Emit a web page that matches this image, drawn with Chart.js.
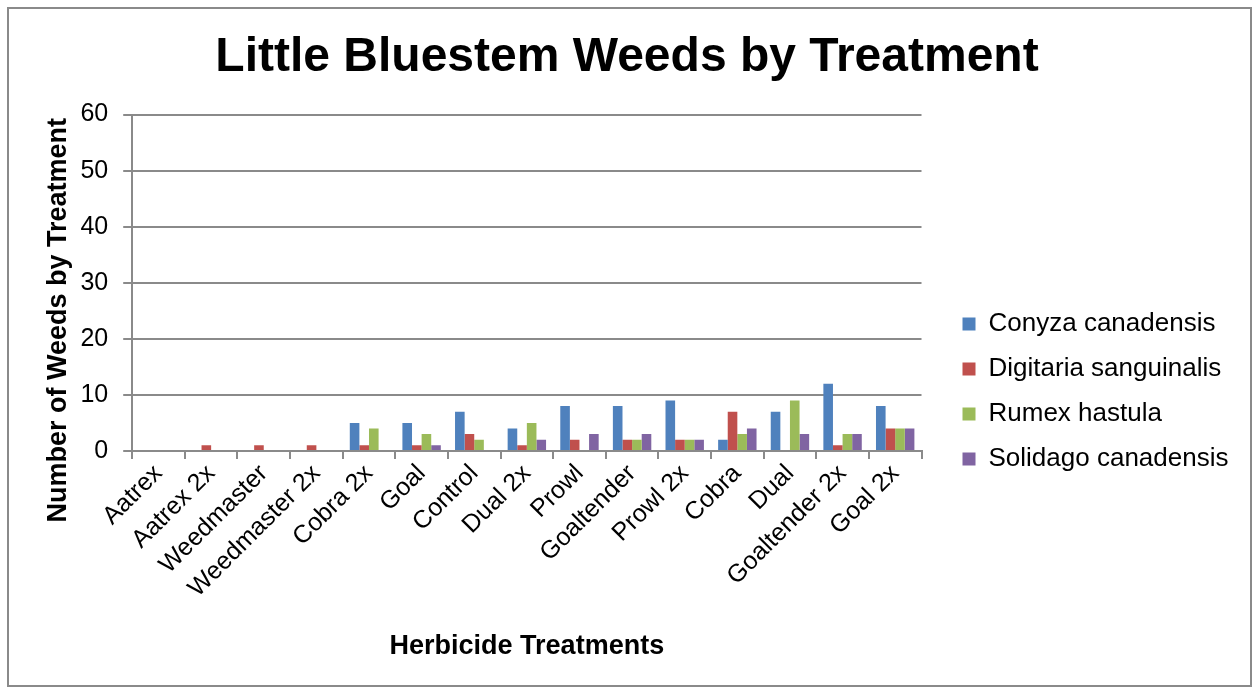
<!DOCTYPE html>
<html>
<head>
<meta charset="utf-8">
<script src="https://cdn.jsdelivr.net/npm/chart.js@4"></script>
<style>
  html, body { margin: 0; padding: 0; background: #fff; }
  #wrap { position: relative; width: 1253px; height: 688px; }
  #frame { position: absolute; left: 7px; top: 7px; width: 1241px; height: 676px; border: 2px solid #8a8a8a; pointer-events: none; }
</style>
</head>
<body>
<div id="wrap">
  <canvas id="myChart"></canvas>
  <div id="frame"></div>
</div>
<script>
const treatments = ["Aatrex", "Aatrex 2x", "Weedmaster", "Weedmaster 2x", "Cobra 2x", "Goal", "Control",
  "Dual 2x", "Prowl", "Goaltender", "Prowl 2x", "Cobra", "Dual", "Goaltender 2x", "Goal 2x"];
const conyza    = [0, 0, 0, 0, 5, 5, 7, 4, 8, 8, 9, 2, 7, 12, 8];
const digitaria = [0, 1, 1, 1, 1, 1, 3, 1, 2, 2, 2, 7, 0, 1, 4];
const rumex     = [0, 0, 0, 0, 4, 3, 2, 5, 0, 2, 2, 3, 9, 3, 4];
const solidago  = [0, 0, 0, 0, 0, 1, 0, 2, 3, 3, 2, 4, 3, 3, 4];
const yTicks = [0, 10, 20, 30, 40, 50, 60];

const ctx = document.getElementById("myChart");
const font = "'Liberation Sans', Arial, sans-serif";
const grey = "#8a8a8a";

function series(label, data, color) {
  return {
    label: label,
    data: data,
    backgroundColor: color,
    borderWidth: 0,
    categoryPercentage: 0.73,
    barPercentage: 1.0,
  };
}

// push the legend a bit further away from the plot, like Excel does
const legendGap = {
  id: "legendGap",
  afterLayout(chart) {
    if (chart.legend) {
      chart.legend.left += 22;
      chart.legend.right += 22;
    }
  },
};

new Chart(ctx, {
  type: "bar",
  data: {
    labels: treatments,
    datasets: [
      series("Conyza canadensis", conyza, "#4f81bd"),
      series("Digitaria sanguinalis", digitaria, "#c0504d"),
      series("Rumex hastula", rumex, "#9bbb59"),
      series("Solidago canadensis", solidago, "#8064a2"),
    ],
  },
  plugins: [legendGap],
  options: {
    responsive: true,
    maintainAspectRatio: false,
    animation: false,
    layout: { padding: { left: 38, right: 37, top: 29, bottom: 25 } },
    plugins: {
      title: {
        display: true,
        text: "Little Bluestem Weeds by Treatment",
        color: "#000",
        font: { family: font, size: 48, weight: "bold" },
        padding: { top: 0, bottom: 28 },
      },
      legend: {
        position: "right",
        title: {
          display: true,
          text: " ",
          font: { family: font, size: 26 },
          padding: { top: 0, bottom: 60 },
        },
        labels: {
          color: "#000",
          font: { family: font, size: 26 },
          boxWidth: 13,
          boxHeight: 13,
          padding: 19,
        },
      },
      tooltip: { enabled: false },
    },
    scales: {
      x: {
        grid: { drawOnChartArea: false, offset: true, color: grey, lineWidth: 2, tickLength: 8 },
        border: { color: grey, width: 2 },
        ticks: {
          color: "#000",
          font: { family: font, size: 25 },
          maxRotation: 45,
          minRotation: 45,
          autoSkip: false,
          padding: 0,
        },
        title: {
          display: true,
          text: "Herbicide Treatments",
          color: "#000",
          font: { family: font, size: 27, weight: "bold" },
          padding: { top: 27, bottom: 0 },
        },
      },
      y: {
        min: 0,
        max: 60,
        afterBuildTicks: (axis) => {
          axis.ticks = yTicks.map((v) => ({ value: v }));
        },
        grid: { color: grey, lineWidth: 2, tickLength: 9 },
        border: { color: grey, width: 2 },
        ticks: {
          color: "#000",
          font: { family: font, size: 25 },
          padding: 15,
        },
        title: {
          display: true,
          text: "Number of Weeds by Treatment\u00a0\u00a0\u00a0\u00a0\u00a0\u00a0\u00a0\u00a0\u00a0\u00a0",
          color: "#000",
          font: { family: font, size: 27, weight: "bold" },
          padding: { top: 4, bottom: -9 },
        },
      },
    },
  },
});
</script>
</body>
</html>
